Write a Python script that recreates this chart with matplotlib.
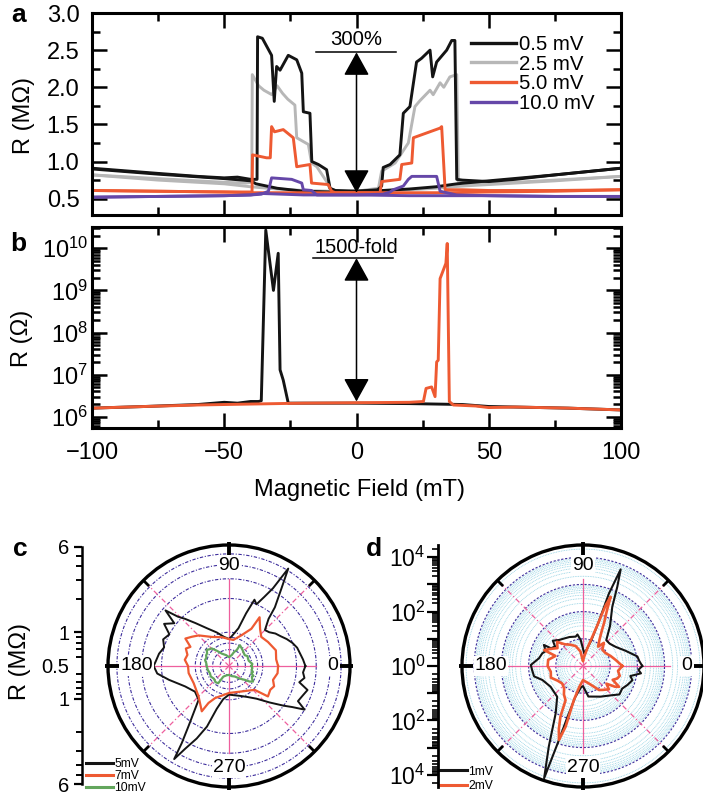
import numpy as np
import matplotlib
matplotlib.use('Agg')
import matplotlib.pyplot as plt
from matplotlib.ticker import MultipleLocator, LogLocator, FixedLocator, NullFormatter, NullLocator
from matplotlib.lines import Line2D

plt.rcParams['font.family'] = ['Liberation Sans', 'DejaVu Sans']
plt.rcParams['mathtext.default'] = 'regular'

W, H = 703, 795
fig = plt.figure(figsize=(W / 100, H / 100), dpi=100)


def fx(px):
    return px / W


def fy(py):
    return 1 - py / H


# ---------------- colours ----------------
C_BLACK = '#141414'
C_GRAY = '#b7b7b7'
C_ORANGE = '#ee5a32'
C_PURPLE = '#6547a8'
C_GREEN = '#63a65d'
C_PINK = '#ee5f9d'
C_NAVY = '#3d2d9c'
C_CYAN = '#8fd0e2'

# ---------------- panel a data (R in MOhm vs field in mT) ----------------
a_labels = ['0.5 mV', '2.5 mV', '5.0 mV', '10.0 mV']

a05_down_B = [100, 75, 50, 38, 30, 20, 10, 0, -8, -10, -11.3, -14.4, -16.9, -17.6, -20.1, -20.7, -22.6, -25.8,
              -28.9, -30.2, -31.1, -32.1, -35.6, -37.4, -37.6, -40, -45, -50, -60, -75, -100]
a05_down_R = [0.91, 0.82, 0.74, 0.70, 0.66, 0.63, 0.61, 0.60, 0.61, 0.64, 0.89, 0.96, 1.00, 1.65, 1.67, 2.19, 2.37,
              2.43, 2.23, 2.28, 1.81, 2.43, 2.66, 2.68, 0.76, 0.76, 0.79, 0.78, 0.80, 0.84, 0.91]
a05_up_B = [-100, -75, -50, -40, -38, -30, -20, -10, 0, 8, 9.5, 10.1, 12.7, 16.4, 17.7, 20.2, 22.7, 24.6, 27.8,
            28.8, 30.3, 34.1, 36, 37.2, 37.9, 40, 45, 50, 60, 75, 100]
a05_up_R = [0.90, 0.83, 0.77, 0.74, 0.70, 0.64, 0.60, 0.59, 0.60, 0.62, 0.67, 0.92, 0.96, 1.09, 1.65, 1.74, 2.34,
            2.39, 2.50, 2.14, 2.34, 2.50, 2.63, 2.63, 0.76, 0.75, 0.74, 0.73, 0.76, 0.82, 0.91]

a25_down_B = [100, 75, 50, 40, 30, 20, 10, 0, -8, -10, -11.3, -15, -17, -18.2, -22.6, -23.3, -26, -28, -30, -32,
              -35, -37, -39.4, -39.6, -42, -50, -60, -75, -100]
a25_down_R = [0.80, 0.74, 0.69, 0.67, 0.64, 0.62, 0.61, 0.60, 0.61, 0.63, 0.73, 0.93, 0.98, 1.23, 1.32, 1.76, 1.84,
              1.92, 2.02, 1.90, 1.96, 2.02, 2.17, 0.72, 0.71, 0.72, 0.74, 0.77, 0.82]
a25_up_B = [-100, -75, -50, -40, -30, -20, -10, 0, 8.3, 9.5, 14.6, 19.6, 22.1, 24, 27.8, 29, 31.6, 33, 35.3, 37.9,
            38.5, 42, 50, 60, 75, 100]
a25_up_R = [0.82, 0.75, 0.70, 0.66, 0.63, 0.61, 0.60, 0.60, 0.64, 0.87, 0.98, 1.25, 1.74, 1.82, 1.96, 1.90, 2.06,
            2.00, 2.14, 2.17, 0.73, 0.71, 0.70, 0.72, 0.75, 0.80]

a50_down_B = [100, 75, 50, 35, 20, 10, 0, -8, -9.4, -10.7, -17, -17.6, -22.6, -23.9, -27.7, -31, -32.1, -32.6, -34,
              -39.3, -39.5, -50, -75, -100]
a50_down_R = [0.62, 0.60, 0.59, 0.58, 0.58, 0.58, 0.58, 0.58, 0.60, 0.69, 0.71, 0.96, 0.93, 1.32, 1.43, 1.40, 1.47,
              1.05, 1.05, 1.09, 0.59, 0.59, 0.60, 0.61]
a50_up_B = [-100, -75, -50, -40, -20, -10, 0, 8.9, 9.5, 16.4, 17.1, 20.9, 21.5, 24.6, 31.6, 32.2, 33.5, 40, 50, 75,
            100]
a50_up_R = [0.61, 0.60, 0.59, 0.58, 0.58, 0.58, 0.58, 0.58, 0.73, 0.76, 0.96, 0.98, 1.32, 1.36, 1.45, 1.47, 0.62,
            0.62, 0.61, 0.61, 0.62]

a10_down_B = [100, 75, 50, 20, 0, -10, -15, -17, -20.1, -20.7, -24.5, -32.1, -33.3, -36, -40, -50, -75, -100]
a10_down_R = [0.53, 0.53, 0.54, 0.54, 0.55, 0.55, 0.55, 0.61, 0.62, 0.71, 0.76, 0.78, 0.60, 0.56, 0.55, 0.54, 0.53,
              0.52]
a10_up_B = [-100, -75, -50, -40, -36, -20, 0, 10, 12.7, 13.9, 17.7, 19.6, 20.9, 30.3, 31.6, 37.9, 50, 75, 100]
a10_up_R = [0.52, 0.53, 0.54, 0.55, 0.57, 0.55, 0.55, 0.56, 0.59, 0.62, 0.67, 0.76, 0.80, 0.80, 0.60, 0.55, 0.54,
            0.53, 0.53]

# ---------------- panel b data (R in Ohm) ----------------
b_black_B = [-100, -80, -60, -50, -45, -40, -37, -36, -34.3, -31.4, -29.6, -28.9, -27.7, -25.8, -20, 0, 20, 40, 50,
             60, 80, 100]
b_black_R = [1.6e6, 1.75e6, 1.95e6, 2.2e6, 2.1e6, 2.3e6, 2.3e6, 2.4e6, 2.7e10, 1.0e9, 7.6e9, 1.3e7, 7.4e6, 2.1e6,
             2.1e6, 2.1e6, 2.05e6, 1.95e6, 1.75e6, 1.7e6, 1.6e6, 1.45e6]
b_orange_B = [-100, -80, -60, -40, -20, 0, 20, 25.3, 26.3, 28.4, 29.7, 30.3, 30.9, 31.6, 33.8, 34.3, 35.1, 36.6, 45,
              50, 60, 80, 100]
b_orange_R = [1.6e6, 1.75e6, 1.9e6, 2.0e6, 2.1e6, 2.15e6, 2.2e6, 2.3e6, 4.7e6, 5.1e6, 3.0e6, 2.0e7, 2.2e7, 1.9e9,
              4.4e9, 1.3e10, 2.3e6, 1.9e6, 1.8e6, 1.65e6, 1.7e6, 1.6e6, 1.45e6]

# ---------------- panel c data (angle in deg, R in MOhm) ----------------
c_labels = ['5mV', '7mV', '10mV']
c_black_deg = [0, 5, 10, 15, 20, 25, 30, 35, 40, 45, 50, 52, 56, 58.7, 60.5, 63, 66, 69, 72, 76, 85, 90, 100, 110,
               120, 128, 133, 136, 138.8, 142, 147, 152, 158, 164, 170, 176, 180, 186, 193, 205, 217, 228, 236,
               238.5, 239.5, 242, 246, 250, 254, 260, 270, 280, 290, 300, 310, 318, 324, 327, 330, 333, 338, 343,
               347, 351, 355]
c_black_R = [2.4, 2.3, 2.2, 2.13, 2.0, 1.85, 1.70, 1.6, 1.47, 1.42, 1.77, 2.31, 3.45, 5.2, 3.13, 2.45, 2.0, 2.15,
             1.56, 1.11, 0.92, 0.87, 0.92, 1.04, 1.22, 1.53, 1.88, 2.15, 2.83, 2.08, 2.45, 2.0, 2.15, 2.0, 2.15,
             2.25, 2.35, 2.2, 1.77, 1.35, 1.2, 1.27, 2.2, 3.2, 4.6, 3.45, 2.55, 1.88, 1.25, 1.0, 0.9, 0.92, 0.96,
             1.04, 1.2, 1.53, 2.0, 2.35, 3.0, 2.45, 2.55, 2.7, 2.2, 2.4, 2.3]
c_orange_deg = [0, 8, 18.5, 31.7, 42, 50, 57.9, 59, 67.8, 80.5, 90, 104, 120.6, 134.7, 141.8, 147.8, 153.6, 158,
                165, 172, 180, 190, 206, 225, 239, 241, 246.6, 270, 296, 317, 322, 330, 335.8, 342.5, 351.5]
c_orange_R = [1.37, 1.33, 1.38, 1.28, 1.22, 1.35, 1.63, 1.22, 0.99, 0.86, 0.87, 0.92, 1.0, 1.21, 1.32, 1.44, 1.21,
              1.3, 1.21, 1.25, 1.16, 1.16, 1.12, 1.21, 1.48, 1.19, 1.025, 0.87, 0.895, 1.025, 1.38, 1.33, 1.38,
              1.29, 1.37]
c_green_deg = [0, 5, 10, 15, 21.6, 28, 34.5, 42, 50, 57, 62.4, 64, 70, 76, 90, 105, 120, 128, 134.5, 140, 144, 150,
               155, 160, 166, 173, 180, 190, 201, 210, 220, 230, 238, 242, 255, 270, 285, 299, 310, 318.8, 323, 327,
               331, 335, 338, 342, 346, 350, 355]
c_green_R = [0.79, 0.81, 0.78, 0.76, 0.76, 0.77, 0.74, 0.75, 0.77, 0.79, 0.81, 0.72, 0.68, 0.63, 0.60, 0.63, 0.67,
             0.74, 0.83, 0.85, 0.88, 0.84, 0.84, 0.82, 0.83, 0.80, 0.79, 0.78, 0.76, 0.77, 0.75, 0.77, 0.76, 0.64,
             0.61, 0.60, 0.62, 0.64, 0.70, 0.77, 0.85, 0.90, 0.86, 0.84, 0.86, 0.81, 0.83, 0.80, 0.81]

# ---------------- panel d data (angle in deg, normalised R) ----------------
d_labels = ['1mV', '2mV']
d_black_deg = [0, 5, 10, 20, 30, 40, 48, 56, 63.7, 66.6, 68.7, 70.3, 70.5, 72, 78, 85, 95, 100, 104, 115, 125, 132.7,
               140, 145, 151, 151.7, 158, 162.7, 170, 178.9, 185, 192, 199, 212.6, 230, 240, 247, 250.9, 252, 253,
               256, 265, 270, 280, 287, 300, 315, 322, 330, 337, 344, 348, 352.8, 356]
d_black_R = [151, 120, 107, 45, 25, 19, 19, 60, 269, 1500, 6500, 690, 48, 10, 4, 3, 9, 15, 13, 15, 17, 20, 28, 18, 22,
             43, 30, 37, 44, 83, 75, 69, 38, 26, 30, 102, 1660, 23400, 724, 100, 15, 6, 5.5, 13.8, 15, 20, 33, 50,
             46, 60, 78, 60, 141, 110]
d_orange_deg = [0, 10, 20, 30, 40, 48, 52, 58, 62, 64, 66, 67, 68.2, 69.5, 70, 70.5, 72, 76, 85, 90, 100, 110, 120,
                130, 137, 145, 152, 157.7, 160, 170, 180, 190, 200, 210, 220, 230, 236, 243, 246, 249, 252, 254, 255,
                260, 270, 290, 303.7, 310, 318, 323, 327, 330, 335, 340, 345, 352]
d_orange_R = [28, 17, 12, 9, 8.5, 14, 8, 14, 30, 60, 120, 200, 550, 250, 100, 40, 15, 5, 2, 1.5, 3.5, 6, 8, 11, 20,
              14, 22, 35, 12, 20, 20, 16, 18, 12, 10, 12, 18, 26, 110, 300, 724, 209, 20, 6, 3.3, 5, 11.5, 14, 19,
              12, 25, 34, 16, 22, 25, 20]

# =========================== panel a ===========================
TICK_FS = 17


def style_rect(ax):
    for s in ax.spines.values():
        s.set_linewidth(2.2)
    ax.tick_params(which='both', direction='in', top=True, right=True, width=1.8, labelsize=TICK_FS)
    ax.tick_params(which='major', length=10.5)
    ax.tick_params(which='minor', length=5.5)


ax_a = fig.add_axes([fx(92), fy(215), fx(621) - fx(92), fy(13) - fy(215)])
LW = 2.1
ax_a.plot(a25_down_B, a25_down_R, color=C_GRAY, lw=LW)
ax_a.plot(a25_up_B, a25_up_R, color=C_GRAY, lw=LW)
ax_a.plot(a05_down_B, a05_down_R, color=C_BLACK, lw=LW)
ax_a.plot(a05_up_B, a05_up_R, color=C_BLACK, lw=LW)
ax_a.plot(a50_down_B, a50_down_R, color=C_ORANGE, lw=LW)
ax_a.plot(a50_up_B, a50_up_R, color=C_ORANGE, lw=LW)
ax_a.plot(a10_down_B, a10_down_R, color=C_PURPLE, lw=LW)
ax_a.plot(a10_up_B, a10_up_R, color=C_PURPLE, lw=LW)
ax_a.set_xlim(-100, 100)
ax_a.set_ylim(0.28, 3.0)
ax_a.xaxis.set_major_locator(MultipleLocator(50))
ax_a.xaxis.set_minor_locator(MultipleLocator(25))
ax_a.yaxis.set_major_locator(MultipleLocator(0.5))
ax_a.yaxis.set_minor_locator(MultipleLocator(0.25))
style_rect(ax_a)
ax_a.tick_params(labelbottom=False, pad=9)
ax_a.yaxis.set_major_formatter(matplotlib.ticker.FormatStrFormatter('%.1f'))

a_handles = [Line2D([], [], color=c, lw=2.4) for c in (C_BLACK, C_GRAY, C_ORANGE, C_PURPLE)]
ax_a.legend(a_handles, a_labels, loc='upper left', bbox_to_anchor=(fx(471), fy(35)),
            bbox_transform=fig.transFigure, frameon=False, fontsize=14.7, handlelength=2.2,
            handletextpad=0.15, labelspacing=0.03, borderpad=0, borderaxespad=0)

arrow_kw = dict(arrowstyle='<|-|>,head_length=1.45,head_width=0.8', color='black', lw=1.1,
                shrinkA=0, shrinkB=0, mutation_scale=10)
ax_a.annotate('', xy=(0, 0.58), xytext=(0, 2.47), arrowprops=arrow_kw)
ax_a.plot([-15.3, 14.9], [2.47, 2.47], color='black', lw=1.1)
ax_a.text(0, 2.51, '300%', ha='center', va='bottom', fontsize=14.7)

# =========================== panel b ===========================
ax_b = fig.add_axes([fx(92), fy(428), fx(621) - fx(92), fy(227) - fy(428)])
ax_b.plot(b_black_B, b_black_R, color=C_BLACK, lw=LW)
ax_b.plot(b_orange_B, b_orange_R, color=C_ORANGE, lw=LW)
ax_b.set_yscale('log')
ax_b.set_xlim(-100, 100)
ax_b.set_ylim(5.4e5, 3.2e10)
ax_b.xaxis.set_major_locator(MultipleLocator(50))
ax_b.xaxis.set_minor_locator(MultipleLocator(25))
ax_b.yaxis.set_major_locator(LogLocator(base=10, numticks=20))
ax_b.yaxis.set_minor_locator(LogLocator(base=10, subs=np.arange(2, 10), numticks=20))
ax_b.yaxis.set_minor_formatter(NullFormatter())
style_rect(ax_b)
ax_b.tick_params(axis='x', pad=10)
ax_b.tick_params(axis='y', pad=3)
ax_b.set_xticks([-100, -50, 0, 50, 100])
ax_b.annotate('', xy=(0, 2.3e6), xytext=(0, 5.8e9), arrowprops=arrow_kw)
ax_b.plot([-16.4, 13.9], [5.8e9, 5.8e9], color='black', lw=1.1)
ax_b.text(0, 6.3e9, '1500-fold', ha='center', va='bottom', fontsize=14.5)

fig.text(fx(359), fy(490), 'Magnetic Field (mT)', ha='center', va='center', fontsize=17)
fig.text(fx(24), fy(116), 'R (M\u03a9)', ha='center', va='center', rotation=90, fontsize=17)
fig.text(fx(22), fy(338), 'R (\u03a9)', ha='center', va='center', rotation=90, fontsize=17)
fig.text(fx(20), fy(662), 'R (M\u03a9)', ha='center', va='center', rotation=90, fontsize=17)

for lab, x, y in [('a', 11, 22), ('b', 10, 251), ('c', 13, 556), ('d', 366, 556)]:
    fig.text(fx(x), fy(y), lab, ha='left', va='baseline', fontsize=19, fontweight='bold')

# =========================== polar panels ===========================
R_PX = 121.0
theta_full = np.linspace(0, 2 * np.pi, 721)


def r_at(rmin, rmax, px):
    return rmin * (rmax / rmin) ** (px / R_PX)


def closed(deg, vals):
    t = np.deg2rad(np.append(deg, deg[0]))
    v = np.append(vals, vals[0])
    return t, v


def setup_polar(ax, rmin, rmax):
    ax.set_rscale('log')
    ax.set_rlim(rmin, rmax)
    ax.grid(False)
    ax.set_xticks([])
    ax.yaxis.set_major_locator(NullLocator())
    ax.yaxis.set_minor_locator(NullLocator())
    ax.spines['polar'].set_linewidth(2.4)
    ax.spines['polar'].set_zorder(6)
    r_cross = r_at(rmin, rmax, 87)
    for ang in (0, 90, 180, 270):
        ax.plot([np.deg2rad(ang)] * 2, [rmin, r_cross], color=C_PINK, lw=0.9, zorder=1.5)
    for ang in (45, 135, 225, 315):
        ax.plot([np.deg2rad(ang)] * 2, [rmin, rmax], color=C_PINK, lw=0.9, ls=(0, (4, 2, 1, 2)), zorder=1.5)
    for ang in (0, 90, 180, 270):
        ax.plot([np.deg2rad(ang)] * 2, [r_at(rmin, rmax, 110), r_at(rmin, rmax, 124)], color='black', lw=2.8,
                solid_capstyle='butt', clip_on=False, zorder=7)
    for ang in (45, 135, 225, 315):
        ax.plot([np.deg2rad(ang)] * 2, [r_at(rmin, rmax, 113), rmax], color='black', lw=2.0,
                solid_capstyle='butt', clip_on=False, zorder=7)
    for ang, px in ((90, 101), (180, 92), (0, 104), (270, 102)):
        ax.text(np.deg2rad(ang), r_at(rmin, rmax, px), str(ang), ha='center', va='center', fontsize=14,
                zorder=8, bbox=dict(boxstyle='square,pad=0.06', fc='white', ec='none'))


# ---- panel c ----
c_rmin, c_rmax = 0.5, 6.0
ax_c = fig.add_axes([fx(108), fy(787), 242 / W, 242 / H], projection='polar')
setup_polar(ax_c, c_rmin, c_rmax)
for v in [0.6, 0.7, 0.8, 0.9, 1, 2, 3, 4, 5]:
    ax_c.plot(theta_full, np.full_like(theta_full, v), color=C_NAVY, lw=0.8, ls=(0, (3, 1.5, 1, 1.5)), zorder=1)
t, v = closed(c_black_deg, c_black_R)
ax_c.plot(t, v, color=C_BLACK, lw=1.4, zorder=3)
t, v = closed(c_orange_deg, c_orange_R)
ax_c.plot(t, v, color=C_ORANGE, lw=1.6, zorder=3)
t, v = closed(c_green_deg, c_green_R)
ax_c.plot(t, v, color=C_GREEN, lw=1.6, zorder=3)
c_handles = [Line2D([], [], color=c, lw=2.2) for c in (C_BLACK, C_ORANGE, C_GREEN)]
ax_c.legend(c_handles, c_labels, loc='lower left', bbox_to_anchor=(fx(86), fy(794)),
            bbox_transform=fig.transFigure, frameon=False, fontsize=8.7, handlelength=2.2,
            handletextpad=0.15, labelspacing=0.0, borderpad=0, borderaxespad=0)

# left scale for c (mirrored log distance from centre)
ax_cl = fig.add_axes([fx(82), fy(784), 0.0001, (784 - 547) / H])
Lc = np.log10(c_rmax / c_rmin)
ax_cl.set_ylim(-Lc, Lc)
for s in ('top', 'right', 'bottom'):
    ax_cl.spines[s].set_visible(False)
ax_cl.spines['left'].set_linewidth(1.8)
ax_cl.patch.set_visible(False)
ax_cl.set_xticks([])
c_tick_vals = [6, 1, 0.5, 1, 6]
c_tick_sign = [1, 1, 0, -1, -1]
ax_cl.set_yticks([s * np.log10(val / c_rmin) for val, s in zip(c_tick_vals, c_tick_sign)],
                 labels=[('%g' % val) for val in c_tick_vals])
c_minor = [0.6, 0.7, 0.8, 0.9, 2, 3, 4, 5]
ax_cl.yaxis.set_minor_locator(FixedLocator([np.log10(m / c_rmin) for m in c_minor] +
                                           [-np.log10(m / c_rmin) for m in c_minor]))
ax_cl.tick_params(axis='y', which='major', direction='out', length=6, width=1.6, labelsize=14.5, pad=3)
ax_cl.tick_params(axis='y', which='minor', direction='out', length=4, width=1.4)
ax_cl.yaxis.get_major_ticks()[2].tick1line.set_visible(False)

# ---- panel d ----
d_rmin, d_rmax = 1.0, 10 ** 4.45
ax_d = fig.add_axes([fx(462), fy(787), 242 / W, 242 / H], projection='polar')
setup_polar(ax_d, d_rmin, d_rmax)
for n in range(0, 5):
    for k in range(2, 10):
        val = k * 10 ** n
        if val < d_rmax:
            ax_d.plot(theta_full, np.full_like(theta_full, val), color=C_CYAN, lw=0.6, ls=(0, (1, 1)), zorder=1)
for val in [10, 100, 1000, 10000]:
    ax_d.plot(theta_full, np.full_like(theta_full, val), color=C_NAVY, lw=0.8, ls=(0, (2, 1.5)), zorder=1.2)
t, v = closed(d_black_deg, d_black_R)
ax_d.plot(t, v, color=C_BLACK, lw=1.5, zorder=3)
t, v = closed(d_orange_deg, d_orange_R)
ax_d.plot(t, v, color=C_ORANGE, lw=1.9, zorder=3)
d_handles = [Line2D([], [], color=c, lw=2.2) for c in (C_BLACK, C_ORANGE)]
ax_d.legend(d_handles, d_labels, loc='lower left', bbox_to_anchor=(fx(439), fy(792)),
            bbox_transform=fig.transFigure, frameon=False, fontsize=8.7, handlelength=2.3,
            handletextpad=0.15, labelspacing=0.2, borderpad=0, borderaxespad=0)

ax_dl = fig.add_axes([fx(438), fy(787), 0.0001, 242 / H])
Ld = np.log10(d_rmax / d_rmin)
ax_dl.set_ylim(-Ld, Ld)
for s in ('top', 'right', 'bottom'):
    ax_dl.spines[s].set_visible(False)
ax_dl.spines['left'].set_linewidth(2.0)
ax_dl.patch.set_visible(False)
ax_dl.set_xticks([])
d_major_exp = [4, 3, 2, 1, 0, -1, -2, -3, -4]
ax_dl.set_yticks(d_major_exp,
                 labels=[('$10^{%d}$' % abs(e)) if e % 2 == 0 else '' for e in d_major_exp])
d_minor = []
for n in range(0, 5):
    for k in range(2, 10):
        p = np.log10(k) + n
        if p < Ld:
            d_minor += [p, -p]
ax_dl.yaxis.set_minor_locator(FixedLocator(d_minor))
ax_dl.tick_params(axis='y', which='major', direction='out', length=8, width=1.6, labelsize=16.5, pad=1)
ax_dl.tick_params(axis='y', which='minor', direction='out', length=4.5, width=1.2)

fig.savefig('out.png', dpi=100)
